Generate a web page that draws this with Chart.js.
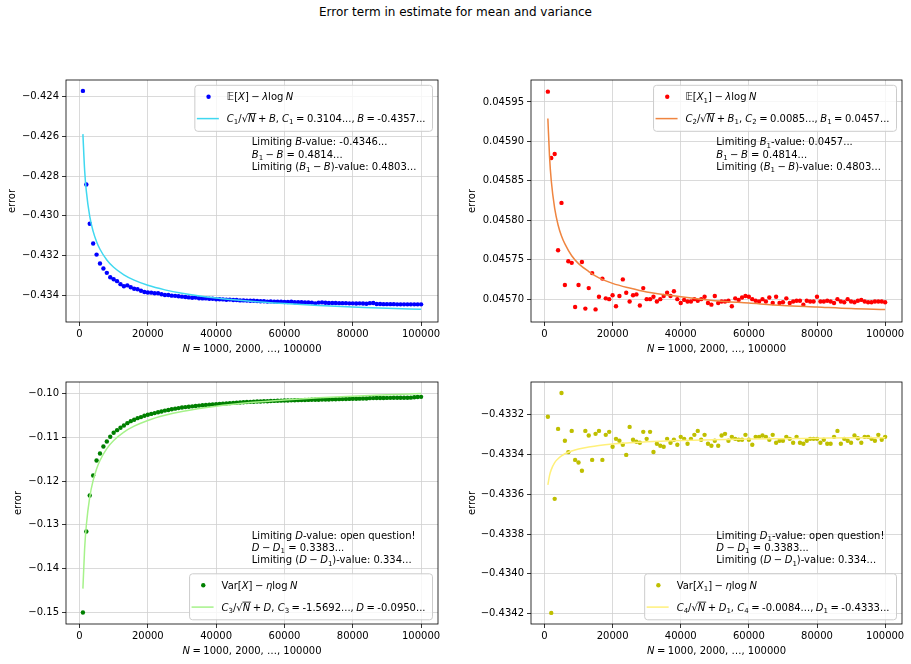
<!DOCTYPE html>
<html>
<head>
<meta charset="utf-8">
<script src="https://cdn.jsdelivr.net/npm/chart.js@4.4.0/dist/chart.umd.min.js"></script>
<style>
  body { margin: 0; width: 911px; height: 664px; background: #fff; position: relative; overflow: hidden; font-family: "DejaVu Sans", sans-serif; }
  #title { position: absolute; left: 0; top: 5px; width: 911px; text-align: center; font-size: 12px; color: #000; }
  .panel { position: absolute; }
</style>
</head>
<body>
<div id="title">Error term in estimate for mean and variance</div>
<div class="panel" id="p1"><canvas id="c1"></canvas></div>
<div class="panel" id="p2"><canvas id="c2"></canvas></div>
<div class="panel" id="p3"><canvas id="c3"></canvas></div>
<div class="panel" id="p4"><canvas id="c4"></canvas></div>
<script>
// N = 1000, 2000, ..., 100000 (as stated on the x axis)
const N_VALUES = Array.from({ length: 100 }, (_, k) => (k + 1) * 1000);
const FIT_N = [1000, 1500, 2000, 3000, 4000, 5000, 6000, 8000, 10000, 13000, 16000,
  20000, 25000, 30000, 40000, 50000, 60000, 70000, 80000, 90000, 100000];

const X_TICKS = [0, 20000, 40000, 60000, 80000, 100000];

// E[X] - lambda log N
const MEAN_X = [
  -0.42370, -0.42842, -0.43040, -0.43140, -0.43196, -0.43241, -0.43266, -0.43288, -0.43310, -0.43320,
  -0.43330, -0.43345, -0.43356, -0.43351, -0.43361, -0.43368, -0.43371, -0.43378, -0.43385, -0.43387,
  -0.43388, -0.43391, -0.43391, -0.43396, -0.43400, -0.43400, -0.43403, -0.43404, -0.43406, -0.43408,
  -0.43410, -0.43412, -0.43414, -0.43413, -0.43416, -0.43417, -0.43417, -0.43419, -0.43419, -0.43421,
  -0.43421, -0.43422, -0.43424, -0.43423, -0.43425, -0.43425, -0.43427, -0.43427, -0.43428, -0.43429,
  -0.43429, -0.43430, -0.43431, -0.43431, -0.43433, -0.43432, -0.43433, -0.43434, -0.43434, -0.43435,
  -0.43435, -0.43434, -0.43436, -0.43436, -0.43436, -0.43437, -0.43437, -0.43438, -0.43442, -0.43438,
  -0.43437, -0.43439, -0.43440, -0.43440, -0.43440, -0.43441, -0.43441, -0.43441, -0.43442, -0.43442,
  -0.43443, -0.43442, -0.43443, -0.43444, -0.43441, -0.43440, -0.43445, -0.43445, -0.43446, -0.43446,
  -0.43446, -0.43446, -0.43447, -0.43447, -0.43447, -0.43447, -0.43447, -0.43447, -0.43447, -0.43447
];
const MEAN_X_FIT = [-0.42588, -0.42769, -0.42876, -0.43003, -0.43079, -0.43131, -0.43169, -0.43223,
  -0.43260, -0.43298, -0.43325, -0.43351, -0.43374, -0.43391, -0.43415, -0.43431, -0.43443, -0.43453,
  -0.43460, -0.43467, -0.43472];

// E[X1] - lambda log N
const MEAN_X1 = [
  0.045963, 0.045879, 0.045884, 0.045762, 0.045822, 0.045718, 0.045748, 0.045746, 0.045690, 0.045718,
  0.045747, 0.045688, 0.045714, 0.045733, 0.045687, 0.045703, 0.045726, 0.045701, 0.045700, 0.045705,
  0.045691, 0.045704, 0.045725, 0.045708, 0.045697, 0.045705, 0.045706, 0.045692, 0.045714, 0.045700,
  0.045700, 0.045703, 0.045697, 0.045700, 0.045704, 0.045708, 0.045704, 0.045710, 0.045700, 0.045695,
  0.045699, 0.045697, 0.045697, 0.045700, 0.045698, 0.045700, 0.045703, 0.045695, 0.045693, 0.045704,
  0.045695, 0.045697, 0.045697, 0.045698, 0.045691, 0.045701, 0.045699, 0.045702, 0.045704, 0.045703,
  0.045700, 0.045698, 0.045697, 0.045700, 0.045697, 0.045702, 0.045695, 0.045703, 0.045695, 0.045696,
  0.045701, 0.045695, 0.045697, 0.045698, 0.045698, 0.045693, 0.045698, 0.045697, 0.045697, 0.045703,
  0.045697, 0.045697, 0.045698, 0.045697, 0.045695, 0.045700, 0.045697, 0.045696, 0.045700, 0.045697,
  0.045696, 0.045698, 0.045699, 0.045697, 0.045696, 0.045696, 0.045697, 0.045697, 0.045697, 0.045696
];
const MEAN_X1_FIT = [0.045929, 0.045880, 0.045850, 0.045815, 0.045794, 0.045780, 0.045770, 0.045755,
  0.045745, 0.045735, 0.045727, 0.045720, 0.045714, 0.045709, 0.045703, 0.045698, 0.045695, 0.045692,
  0.045690, 0.045688, 0.045687];

// Var[X] - eta log N
const VAR_X = [
  -0.15008, -0.13153, -0.12328, -0.11870, -0.11527, -0.11366, -0.11206, -0.11092, -0.10985, -0.10893,
  -0.10832, -0.10779, -0.10725, -0.10672, -0.10626, -0.10595, -0.10557, -0.10534, -0.10504, -0.10481,
  -0.10460, -0.10442, -0.10423, -0.10405, -0.10385, -0.10370, -0.10355, -0.10340, -0.10327, -0.10315,
  -0.10305, -0.10296, -0.10287, -0.10279, -0.10270, -0.10263, -0.10256, -0.10250, -0.10243, -0.10237,
  -0.10231, -0.10226, -0.10220, -0.10214, -0.10208, -0.10203, -0.10198, -0.10193, -0.10189, -0.10184,
  -0.10181, -0.10178, -0.10175, -0.10172, -0.10169, -0.10166, -0.10163, -0.10160, -0.10157, -0.10155,
  -0.10152, -0.10150, -0.10148, -0.10146, -0.10144, -0.10142, -0.10140, -0.10138, -0.10137, -0.10135,
  -0.10133, -0.10131, -0.10129, -0.10127, -0.10125, -0.10123, -0.10121, -0.10119, -0.10117, -0.10115,
  -0.10113, -0.10111, -0.10109, -0.10107, -0.10100, -0.10098, -0.10097, -0.10096, -0.10095, -0.10094,
  -0.10093, -0.10092, -0.10091, -0.10090, -0.10090, -0.10089, -0.10088, -0.10080, -0.10072, -0.10070
];
const VAR_X_FIT = [-0.14460, -0.13552, -0.13009, -0.12365, -0.11981, -0.11719, -0.11526, -0.11254,
  -0.11069, -0.10876, -0.10741, -0.10610, -0.10493, -0.10406, -0.10285, -0.10202, -0.10141, -0.10093,
  -0.10055, -0.10023, -0.09996];

// Var[X1] - eta log N
const VAR_X1 = [
  -0.433210, -0.434197, -0.433623, -0.433271, -0.433090, -0.433331, -0.433388, -0.433281, -0.433427, -0.433440,
  -0.433482, -0.433281, -0.433304, -0.433427, -0.433296, -0.433281, -0.433427, -0.433301, -0.433286, -0.433361,
  -0.433321, -0.433331, -0.433351, -0.433402, -0.433261, -0.433326, -0.433336, -0.433341, -0.433286, -0.433321,
  -0.433286, -0.433387, -0.433346, -0.433356, -0.433361, -0.433321, -0.433341, -0.433326, -0.433351, -0.433311,
  -0.433321, -0.433346, -0.433321, -0.433301, -0.433281, -0.433326, -0.433301, -0.433346, -0.433356, -0.433331,
  -0.433356, -0.433304, -0.433296, -0.433331, -0.433311, -0.433321, -0.433326, -0.433326, -0.433301, -0.433326,
  -0.433351, -0.433311, -0.433311, -0.433304, -0.433311, -0.433326, -0.433301, -0.433341, -0.433331, -0.433331,
  -0.433311, -0.433321, -0.433341, -0.433311, -0.433341, -0.433346, -0.433331, -0.433321, -0.433321, -0.433321,
  -0.433341, -0.433326, -0.433346, -0.433346, -0.433311, -0.433281, -0.433346, -0.433321, -0.433331, -0.433341,
  -0.433304, -0.433318, -0.433341, -0.433311, -0.433311, -0.433321, -0.433331, -0.433301, -0.433326, -0.433311
];
const VAR_X1_FIT = [-0.433553, -0.433505, -0.433476, -0.433441, -0.433421, -0.433407, -0.433396, -0.433382,
  -0.433372, -0.433362, -0.433354, -0.433347, -0.433341, -0.433336, -0.433330, -0.433326, -0.433322,
  -0.433320, -0.433318, -0.433316, -0.433315];

// y tick values per panel
const Y_TICKS_1 = [-0.424, -0.426, -0.428, -0.430, -0.432, -0.434];
const Y_TICKS_2 = [0.04595, 0.04590, 0.04585, 0.04580, 0.04575, 0.04570];
const Y_TICKS_3 = [-0.10, -0.11, -0.12, -0.13, -0.14, -0.15];
const Y_TICKS_4 = [-0.4332, -0.4334, -0.4336, -0.4338, -0.4340, -0.4342];

const FONT = '"DejaVu Sans"';
Chart.defaults.font.family = 'DejaVu Sans';
Chart.defaults.color = '#000';

const YW = 72, PT = 8, PR = 8, XH = 40;

// rich text: parts = [text, style]; style '' normal, 'i' italic, 's' subscript, 'q' italic with root bar
function rich(ctx, parts, x, y, size, draw) {
  let cx = x;
  for (const [t, st] of parts) {
    const small = st === 's';
    const fs = small ? size * 0.7 : size;
    ctx.font = ((st === 'i' || st === 'q') ? 'italic ' : '') + fs + 'px ' + FONT;
    const w = ctx.measureText(t).width;
    if (draw) {
      ctx.fillText(t, cx, y + (small ? size * 0.22 : 0));
      if (st === 'q') ctx.fillRect(cx - 0.3, y - size * 0.9, w + 1.2, 0.8);
    }
    cx += w;
  }
  return cx - x;
}

// medium spaces for the math parts
const TS = '\u2005';
const MINUS = TS + '\u2212' + TS;
const PLUS = TS + '+' + TS;
const EQ = TS + '=' + TS;
const panels = [
  {
    id: 'c1', box: 'p1', L: 66, T: 79, W: 372, H: 243,
    ymin: -0.43536, ymax: -0.42315, ticks: Y_TICKS_1, dec: 3,
    pts: MEAN_X, fit: MEAN_X_FIT, col: '#0000ff', fitCol: '#40d8f0',
    legendTop: true, ylabX: 54,
    leg1: [['\u{1D53C}', ''], ['[', ''], ['X', 'i'], [']', ''], [MINUS, ''], ['\u03bb', 'i'], ['log', ''], [TS, ''], ['N', 'i']],
    leg2: [['C', 'i'], ['1', 's'], ['/', ''], ['\u221a', ''], ['N', 'q'], [PLUS, ''], ['B', 'i'], [', ', ''], ['C', 'i'], ['1', 's'],
      [EQ + '0.3104...,' + TS, ''], ['B', 'i'], [EQ + '-0.4357...', '']],
    note: [
      [['Limiting ', ''], ['B', 'i'], ['-value: -0.4346...', '']],
      [['B', 'i'], ['1', 's'], [MINUS, ''], ['B', 'i'], [' = 0.4814...', '']],
      [['Limiting (', ''], ['B', 'i'], ['1', 's'], [MINUS, ''], ['B', 'i'], [')-value: 0.4803...', '']]
    ],
    noteY: 61.7
  },
  {
    id: 'c2', box: 'p2', L: 531, T: 79, W: 371, H: 243,
    ymin: 0.045671, ymax: 0.0459778, ticks: Y_TICKS_2, dec: 5,
    pts: MEAN_X1, fit: MEAN_X1_FIT, col: '#ff0000', fitCol: '#ef8540',
    legendTop: true, ylabX: 59,
    leg1: [['\u{1D53C}', ''], ['[', ''], ['X', 'i'], ['1', 's'], [']', ''], [MINUS, ''], ['\u03bb', 'i'], ['log', ''], [TS, ''], ['N', 'i']],
    leg2: [['C', 'i'], ['2', 's'], ['/', ''], ['\u221a', ''], ['N', 'q'], [PLUS, ''], ['B', 'i'], ['1', 's'], [', ', ''], ['C', 'i'], ['2', 's'],
      [EQ + '0.0085...,' + TS, ''], ['B', 'i'], ['1', 's'], [EQ + '0.0457...', '']],
    note: [
      [['Limiting ', ''], ['B', 'i'], ['1', 's'], ['-value: 0.0457...', '']],
      [['B', 'i'], ['1', 's'], [MINUS, ''], ['B', 'i'], [' = 0.4814...', '']],
      [['Limiting (', ''], ['B', 'i'], ['1', 's'], [MINUS, ''], ['B', 'i'], [')-value: 0.4803...', '']]
    ],
    noteY: 61.7
  },
  {
    id: 'c3', box: 'p3', L: 66, T: 381, W: 372, H: 243,
    ymin: -0.1527, ymax: -0.0973, ticks: Y_TICKS_3, dec: 2,
    pts: VAR_X, fit: VAR_X_FIT, col: '#008000', fitCol: '#a6f28a',
    legendTop: false, ylabX: 48,
    leg1: [['Var[', ''], ['X', 'i'], [']', ''], [MINUS, ''], ['\u03b7', 'i'], ['log', ''], [TS, ''], ['N', 'i']],
    leg2: [['C', 'i'], ['3', 's'], ['/', ''], ['\u221a', ''], ['N', 'q'], [PLUS, ''], ['D', 'i'], [', ', ''], ['C', 'i'], ['3', 's'],
      [EQ + '-1.5692...,' + TS, ''], ['D', 'i'], [EQ + '-0.0950...', '']],
    note: [
      [['Limiting ', ''], ['D', 'i'], ['-value: open question!', '']],
      [['D', 'i'], [MINUS, ''], ['D', 'i'], ['1', 's'], [' = 0.3383...', '']],
      [['Limiting (', ''], ['D', 'i'], [MINUS, ''], ['D', 'i'], ['1', 's'], [')-value: 0.334...', '']]
    ],
    noteY: 153
  },
  {
    id: 'c4', box: 'p4', L: 531, T: 381, W: 371, H: 243,
    ymin: -0.4342529, ymax: -0.433035, ticks: Y_TICKS_4, dec: 4,
    pts: VAR_X1, fit: VAR_X1_FIT, col: '#bfbf00', fitCol: '#fff07a',
    legendTop: false, ylabX: 59,
    leg1: [['Var[', ''], ['X', 'i'], ['1', 's'], [']', ''], [MINUS, ''], ['\u03b7', 'i'], ['log', ''], [TS, ''], ['N', 'i']],
    leg2: [['C', 'i'], ['4', 's'], ['/', ''], ['\u221a', ''], ['N', 'q'], [PLUS, ''], ['D', 'i'], ['1', 's'], [', ', ''], ['C', 'i'], ['4', 's'],
      [EQ + '-0.0084...,' + TS, ''], ['D', 'i'], ['1', 's'], [EQ + '-0.4333...', '']],
    note: [
      [['Limiting ', ''], ['D', 'i'], ['1', 's'], ['-value: open question!', '']],
      [['D', 'i'], [MINUS, ''], ['D', 'i'], ['1', 's'], [' = 0.3383...', '']],
      [['Limiting (', ''], ['D', 'i'], [MINUS, ''], ['D', 'i'], ['1', 's'], [')-value: 0.334...', '']]
    ],
    noteY: 153
  }
];

const XLABEL = [['N', 'i'], [EQ + '1000, 2000, \u2026, 100000', '']];

// frame, legend box, notes and axis labels drawn on top of the chart
function makeDecor(p) {
  return {
    id: 'decor_' + p.id,
    afterDraw(chart) {
      const ctx = chart.ctx, a = chart.chartArea;
      ctx.save();
      ctx.fillStyle = '#000';
      ctx.textBaseline = 'alphabetic';
      ctx.textAlign = 'left';

      // notes at x = 50000
      const nx = chart.scales.x.getPixelForValue(50000) + 1.5;
      p.note.forEach((line, k) => rich(ctx, line, nx, a.top + p.noteY + k * 12.4 + 3.6, 10, true));

      // legend
      const tw = Math.max(rich(ctx, p.leg1, 0, 0, 10, false), rich(ctx, p.leg2, 0, 0, 10, false));
      const bw = 32 + tw + 7, bh = 46;
      const bx = a.right - 5.5 - bw;
      const by = p.legendTop ? a.top + 5.3 : a.bottom - 4.2 - bh;
      ctx.beginPath();
      ctx.roundRect(bx, by, bw, bh, 3);
      ctx.fillStyle = 'rgba(255,255,255,0.8)';
      ctx.fill();
      ctx.strokeStyle = '#cccccc';
      ctx.lineWidth = 1;
      ctx.stroke();
      const tx = bx + 32;
      ctx.fillStyle = p.col;
      ctx.beginPath();
      ctx.arc(tx - 18.3, by + 11.4, 2.2, 0, Math.PI * 2);
      ctx.fill();
      ctx.strokeStyle = p.fitCol;
      ctx.lineWidth = 1.5;
      ctx.beginPath();
      ctx.moveTo(tx - 30, by + 33.3);
      ctx.lineTo(tx - 8, by + 33.3);
      ctx.stroke();
      ctx.fillStyle = '#000';
      rich(ctx, p.leg1, tx, by + 11.4 + 3.6, 10, true);
      rich(ctx, p.leg2, tx, by + 33.3 + 3.6, 10, true);

      // x label
      const xw = rich(ctx, XLABEL, 0, 0, 10, false);
      rich(ctx, XLABEL, (a.left + a.right) / 2 - xw / 2, a.bottom + 29.5, 10, true);

      // y label
      ctx.translate(a.left - p.ylabX, (a.top + a.bottom) / 2);
      ctx.rotate(-Math.PI / 2);
      ctx.font = '10px ' + FONT;
      ctx.textAlign = 'center';
      ctx.textBaseline = 'middle';
      ctx.fillText('error', 0, 0);
      ctx.restore();

      // frame
      ctx.save();
      ctx.strokeStyle = '#000';
      ctx.lineWidth = 0.8;
      ctx.strokeRect(a.left, a.top, a.right - a.left, a.bottom - a.top);
      ctx.restore();
    }
  };
}

panels.forEach(p => {
  const box = document.getElementById(p.box);
  box.style.left = (p.L - YW) + 'px';
  box.style.top = (p.T - PT) + 'px';
  box.style.width = (p.W + YW + PR) + 'px';
  box.style.height = (p.H + PT + XH) + 'px';

  const gridOpts = { color: '#d0d0d0', lineWidth: 0.8, tickColor: '#000', tickLength: 4, drawTicks: true };
  new Chart(document.getElementById(p.id), {
    type: 'scatter',
    data: {
      datasets: [
        {
          data: FIT_N.map((n, k) => ({ x: n, y: p.fit[k] })),
          showLine: true,
          borderColor: p.fitCol,
          borderWidth: 1.5,
          pointRadius: 0,
          cubicInterpolationMode: 'monotone',
          fill: false,
          order: 0
        },
        {
          data: N_VALUES.map((n, k) => ({ x: n, y: p.pts[k] })),
          showLine: false,
          backgroundColor: p.col,
          borderColor: p.col,
          borderWidth: 0,
          pointRadius: 2.2,
          order: 1
        }
      ]
    },
    options: {
      responsive: true,
      maintainAspectRatio: false,
      animation: false,
      layout: { padding: { left: 0, right: PR, top: PT, bottom: 0 } },
      plugins: { legend: { display: false }, tooltip: { enabled: false } },
      scales: {
        x: {
          type: 'linear', min: -3950, max: 104950,
          afterBuildTicks: s => { s.ticks = X_TICKS.map(v => ({ value: v })); },
          afterFit: s => { s.height = XH; },
          grid: gridOpts,
          border: { display: false },
          ticks: { font: { size: 10 }, padding: 2, maxRotation: 0, autoSkip: false, callback: v => String(v) }
        },
        y: {
          type: 'linear', min: p.ymin, max: p.ymax,
          afterBuildTicks: s => { s.ticks = p.ticks.map(v => ({ value: v })); },
          afterFit: s => { s.width = YW; },
          grid: gridOpts,
          border: { display: false },
          ticks: { font: { size: 10 }, padding: 3, autoSkip: false, callback: v => v.toFixed(p.dec).replace('-', '\u2212') }
        }
      }
    },
    plugins: [makeDecor(p)]
  });
});
</script>
</body>
</html>
